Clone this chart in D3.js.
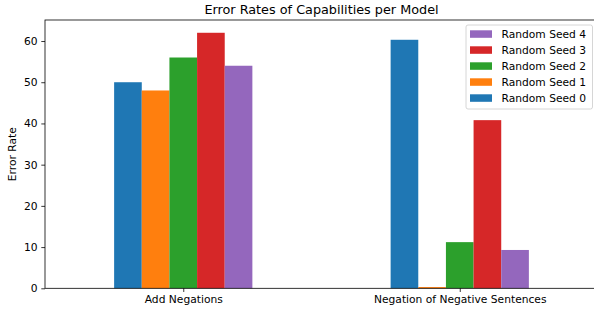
<!DOCTYPE html>
<html><head><meta charset="utf-8">
<script src="https://cdn.jsdelivr.net/npm/d3@7"></script>
<style>body{margin:0;background:#fff;}svg{display:block;font-family:"DejaVu Sans",sans-serif;}</style>
</head><body><svg id="c" width="594" height="316"></svg>
<script>
const categories = ["Add Negations", "Negation of Negative Sentences"];
const seriesNames = ["Random Seed 0", "Random Seed 1", "Random Seed 2", "Random Seed 3", "Random Seed 4"];
const seed0 = [50, 60.3];
const seed1 = [48, 0.3];
const seed2 = [56, 11.2];
const seed3 = [62, 40.8];
const seed4 = [54, 9.3];
const yTicks = [0, 10, 20, 30, 40, 50, 60];
const colors = ["#1f77b4", "#ff7f0e", "#2ca02c", "#d62728", "#9467bd"];
const series = [seed0, seed1, seed2, seed3, seed4];

const svg = d3.select("#c");
const L = 45, R = 598, T = 20, B = 288.3;
const FS = 10.7;
const x = d3.scaleLinear().domain([-0.5, 1.5]).range([L, R]);
const ymax = d3.max(series.flat()) * 1.05;
const y = d3.scaleLinear().domain([0, ymax]).range([B, T]);
const bw = 0.1;

series.forEach((vals, s) => {
  svg.append("g").selectAll("rect").data(vals).join("rect")
    .attr("x", (d, i) => x(i - 0.25 + s * bw))
    .attr("width", x(bw) - x(0))
    .attr("y", d => y(d))
    .attr("height", d => y(0) - y(d))
    .attr("fill", colors[s]);
});

// spines
svg.append("rect").attr("x", L).attr("y", T).attr("width", R - L).attr("height", B - T)
  .attr("fill", "none").attr("stroke", "#000").attr("stroke-width", 0.8);

const yAxis = svg.append("g").attr("transform", `translate(${L},0)`)
  .call(d3.axisLeft(y).tickValues(yTicks).tickSize(3.7).tickPadding(3.7).tickFormat(d3.format("d")));
const xAxis = svg.append("g").attr("transform", `translate(0,${B})`)
  .call(d3.axisBottom(x).tickValues([0, 1]).tickSize(3.7).tickPadding(3.7).tickFormat(i => categories[i]));
[yAxis, xAxis].forEach(a => {
  a.select(".domain").remove();
  a.selectAll("line").attr("stroke", "#000").attr("stroke-width", 0.8);
  a.selectAll("text").attr("font-size", FS).attr("fill", "#000").attr("font-family", "DejaVu Sans");
});

svg.append("text").attr("x", (L + R) / 2).attr("y", 14).attr("text-anchor", "middle")
  .attr("font-size", 12.8).text("Error Rates of Capabilities per Model");
svg.append("text").attr("transform", `translate(16,${(T + B) / 2}) rotate(-90)`)
  .attr("text-anchor", "middle").attr("font-size", FS).text("Error Rate");

// legend
const lg = svg.append("g");
lg.append("rect").attr("x", 466).attr("y", 25).attr("width", 126.5).attr("height", 84)
  .attr("rx", 2).attr("fill", "#fff").attr("fill-opacity", 0.8).attr("stroke", "#ccc").attr("stroke-width", 0.8);
const order = [4, 3, 2, 1, 0];
order.forEach((s, k) => {
  const cy = 34 + k * 16;
  lg.append("rect").attr("x", 470).attr("y", cy - 3.7).attr("width", 22).attr("height", 7.5).attr("fill", colors[s]);
  lg.append("text").attr("x", 501.5).attr("y", cy + 3.8).attr("font-size", FS).text(seriesNames[s]);
});
</script></body></html>
